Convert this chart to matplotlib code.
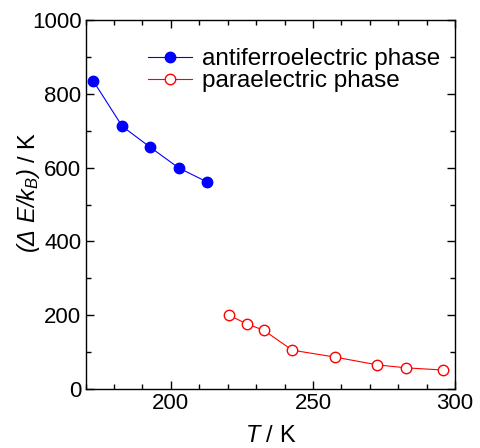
import matplotlib
matplotlib.use("Agg")
import matplotlib.pyplot as plt
from matplotlib.ticker import MultipleLocator

plt.rcParams['font.family'] = ['Liberation Sans', 'DejaVu Sans']
# math parts of the axis labels are fully italic in the reference
plt.rcParams['mathtext.fontset'] = 'custom'
plt.rcParams['mathtext.rm'] = 'Liberation Sans:italic'
plt.rcParams['mathtext.it'] = 'Liberation Sans:italic'
plt.rcParams['mathtext.bf'] = 'Liberation Sans:bold'

# Data
afe_T = [172.7, 182.9, 192.8, 202.8, 212.8]
afe_E = [835, 712, 655, 599, 561]
pe_T = [220.6, 226.8, 232.7, 242.7, 257.9, 272.7, 282.9, 295.9]
pe_E = [199, 176, 159, 105, 86, 65, 57, 51]

fig = plt.figure(figsize=(4.81, 4.48), dpi=100)
ax = fig.add_axes([0.178, 0.132, 0.768, 0.823])

ax.plot(afe_T, afe_E, '-o', color='blue', lw=0.8, ms=7.5,
        label='antiferroelectric phase')
ax.plot(pe_T, pe_E, '-o', color='red', lw=0.8, ms=7.5, mfc='white',
        mew=1.0, label='paraelectric phase')

ax.set_xlim(170, 300)
ax.set_ylim(0, 1000)
ax.xaxis.set_major_locator(MultipleLocator(50))
ax.xaxis.set_minor_locator(MultipleLocator(10))
ax.yaxis.set_major_locator(MultipleLocator(200))
ax.yaxis.set_minor_locator(MultipleLocator(100))
ax.tick_params(which='both', direction='in', top=True, right=True,
               labelsize=16, width=1, pad=3)
ax.tick_params(which='major', length=6)
ax.tick_params(which='minor', length=3.5)
for s in ax.spines.values():
    s.set_linewidth(1)

ax.set_xlabel(r'$T$ / K', fontsize=17, labelpad=8)
ax.set_ylabel(r'$(Δ\ E/k_B)$ / K', fontsize=17)
ax.yaxis.set_label_coords(-0.118, 0.533)

ax.legend(loc='upper left', bbox_to_anchor=(0.143, 0.95), frameon=False,
          fontsize=17.5, handlelength=1.8, handletextpad=0.4,
          labelspacing=0.0, borderaxespad=0)

fig.savefig('out.png', dpi=100)
